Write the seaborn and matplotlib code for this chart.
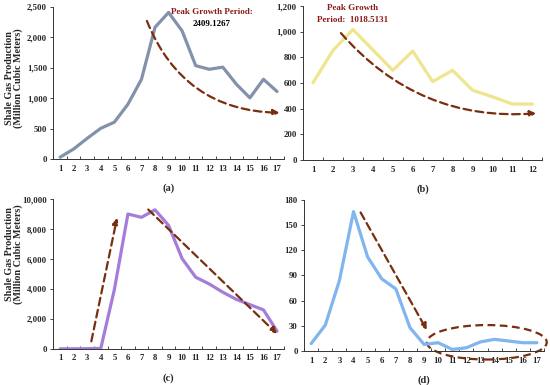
import matplotlib
matplotlib.use('Agg')
import matplotlib.pyplot as plt
import numpy as np
import pandas as pd
import seaborn as sns
from matplotlib.patches import Ellipse
from matplotlib.ticker import FuncFormatter, MultipleLocator

# Data
periods_a = list(range(1, 18))
gas_a = [30, 165, 340, 505, 605, 900, 1310, 2165, 2409, 2105, 1535, 1475, 1510, 1230, 1005, 1310, 1110]

periods_b = list(range(1, 13))
gas_b = [603, 855, 1018, 860, 700, 850, 612, 700, 545, 494, 437, 437]

periods_c = list(range(1, 18))
gas_c = [0, 0, 10, 30, 3950, 9000, 8780, 9280, 8240, 6020, 4780, 4330, 3780, 3300, 2950, 2600, 1180]

periods_d = list(range(1, 18))
gas_d = [9, 31, 84, 166, 112, 86, 74, 28, 8, 10, 2, 4, 11, 14, 12, 10, 10]

# trend arrows (start, end) in data units
arrows_a = [((7.4, 2270), (17.2, 760))]
arrows_b = [((2.4, 990), (12.2, 365))]
arrows_c = [((3.3, 500), (5.2, 8750)), ((7.5, 9300), (17.0, 1000))]
arrows_d = [((4.5, 165), (9.2, 25))]

sns.set_style('ticks')
plt.rcParams['font.family'] = ['Liberation Serif', 'DejaVu Serif']
plt.rcParams['font.weight'] = 'bold'

fig = plt.figure(figsize=(5.5, 3.85), dpi=100)
ax_a = fig.add_axes([0.097, 0.587, 0.419, 0.395])
ax_b = fig.add_axes([0.551, 0.584, 0.435, 0.400])
ax_c = fig.add_axes([0.097, 0.094, 0.419, 0.389])
ax_d = fig.add_axes([0.553, 0.088, 0.436, 0.393])

arrow_col = '#7a2e10'
text_col = '#8b1a1a'
ylab = 'Shale Gas Production\n(Million Cubic Meters)'


def style_axis(ax, n, ymax, ystep, tag):
    ax.set_xlim(0.5, n + 0.5)
    ax.set_ylim(0, ymax)
    ax.xaxis.set_major_locator(MultipleLocator(1))
    ax.xaxis.set_minor_locator(MultipleLocator(1, offset=0.5))
    ax.yaxis.set_major_locator(MultipleLocator(ystep))
    ax.yaxis.set_major_formatter(FuncFormatter(lambda v, p: f'{int(v):,}'))
    ax.tick_params(axis='x', which='major', length=0, labelsize=6.3, pad=4)
    ax.tick_params(axis='x', which='minor', length=2.5, direction='in', width=0.6)
    ax.tick_params(axis='y', length=2.5, width=0.6, labelsize=6.3, pad=2)
    for s in ['top', 'right']:
        ax.spines[s].set_visible(False)
    for s in ['left', 'bottom']:
        ax.spines[s].set_linewidth(0.7)
        ax.spines[s].set_color('#333333')
    ax.set_xlabel(tag, fontsize=7.5, fontweight='bold', labelpad=8)
    ax.set_ylabel('')


def draw_arrows(ax, arrows, rad=0.0):
    for start, end in arrows:
        ax.annotate('', xy=end, xytext=start,
                    arrowprops=dict(arrowstyle='-|>', color=arrow_col, lw=1.6,
                                    linestyle=(0, (3.5, 2)), mutation_scale=9,
                                    connectionstyle=f'arc3,rad={rad}',
                                    shrinkA=0, shrinkB=0))


# (a)
sns.lineplot(x=periods_a, y=gas_a, color='#8391ab', lw=2.3, ax=ax_a)
style_axis(ax_a, 17, 2500, 500, '(a)')
ax_a.set_ylabel(ylab, fontsize=7.3, fontweight='bold', linespacing=1.0)
ax_a.yaxis.set_label_coords(-0.13, 0.53)
draw_arrows(ax_a, arrows_a, rad=0.33)
ax_a.text(12.2, 2420, 'Peak Growth Period:', color=text_col, fontsize=6.5,
          fontweight='bold', ha='center', va='center')
ax_a.text(12.2, 2220, '2409.1267', color='black', fontsize=6.5,
          fontweight='bold', ha='center', va='center')

# (b)
sns.lineplot(x=periods_b, y=gas_b, color='#efe58e', lw=2.3, ax=ax_b)
style_axis(ax_b, 12, 1200, 200, '(b)')
draw_arrows(ax_b, arrows_b, rad=0.25)
ax_b.text(3.0, 1185, 'Peak Growth', color=text_col, fontsize=6.5,
          fontweight='bold', ha='center', va='center')
ax_b.text(3.0, 1090, 'Period:  1018.5131', color=text_col, fontsize=6.5,
          fontweight='bold', ha='center', va='center')

# (c)
sns.lineplot(x=periods_c, y=gas_c, color='#a47ddb', lw=2.3, ax=ax_c)
style_axis(ax_c, 17, 10000, 2000, '(c)')
ax_c.set_ylabel(ylab, fontsize=7.3, fontweight='bold', linespacing=1.0)
ax_c.yaxis.set_label_coords(-0.13, 0.63)
draw_arrows(ax_c, arrows_c)

# (d)
sns.lineplot(x=periods_d, y=gas_d, color='#80b5ef', lw=2.3, ax=ax_d)
style_axis(ax_d, 17, 180, 30, '(d)')
draw_arrows(ax_d, arrows_d)
ax_d.add_patch(Ellipse((13.45, 10.5), 8.5, 41, fill=False, edgecolor=arrow_col,
                       lw=1.6, linestyle=(0, (3.5, 2)), clip_on=False))

fig.savefig('out.png', dpi=100)
